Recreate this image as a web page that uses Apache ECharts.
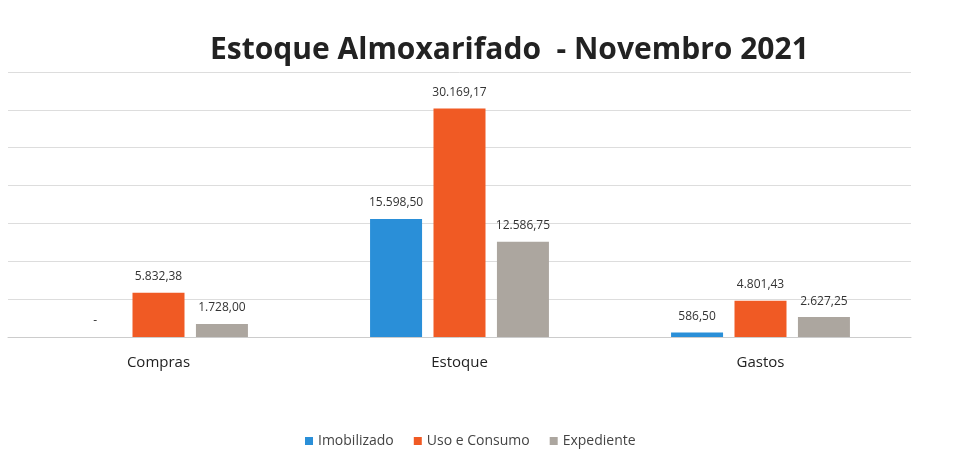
<!DOCTYPE html>
<html style="height: 100%">
<head>
    <meta charset="utf-8">
</head>
<body style="height: 100%; margin: 0; background: #fff">
<div id="container" style="width: 953px; height: 473px;"></div>
<script type="text/javascript" src="https://cdn.jsdelivr.net/npm/echarts@6/dist/echarts.min.js"></script>
<script type="text/javascript">
var categories = ['Compras', 'Estoque', 'Gastos'];
var imobilizado = [0, 15598.50, 586.50];
var usoConsumo = [5832.38, 30169.17, 4801.43];
var expediente = [1728.00, 12586.75, 2627.25];

var dom = document.getElementById('container');
var myChart = echarts.init(dom);

// formato brasileiro: 30.169,17 ; zero aparece como "-"
function fmt(p) {
    if (!p.value) return '-';
    var parts = p.value.toFixed(2).split('.');
    return parts[0].replace(/\B(?=(\d{3})+(?!\d))/g, '.') + ',' + parts[1];
}

var label = {
    show: true,
    position: 'top',
    distance: 10,
    color: '#333',
    fontSize: 12,
    fontFamily: 'Open Sans',
    formatter: fmt
};

function bar(name, data, color) {
    return {
        name: name,
        type: 'bar',
        data: data,
        barWidth: 52,
        barGap: '22%',
        itemStyle: { color: color },
        label: label
    };
}

var option = {
    backgroundColor: '#fff',
    title: {
        text: 'Estoque Almoxarifado  - Novembro 2021',
        left: 205,
        top: 30,
        textStyle: { fontFamily: 'Open Sans', fontWeight: 'bold', fontSize: 30, color: '#222' }
    },
    legend: {
        bottom: 20,
        left: 300,
        itemWidth: 8,
        itemHeight: 8,
        itemGap: 20,
        icon: 'rect',
        textStyle: { fontFamily: 'Open Sans', fontSize: 14, color: '#444' },
        data: ['Imobilizado', 'Uso e Consumo', 'Expediente']
    },
    grid: { left: 8, right: 42, top: 72, bottom: 136 },
    xAxis: {
        type: 'category',
        data: categories,
        axisLine: { lineStyle: { color: '#ccc' } },
        axisTick: { show: false },
        axisLabel: { fontFamily: 'Open Sans', fontSize: 15, color: '#222', margin: 18 }
    },
    yAxis: {
        type: 'value',
        min: 0,
        max: 35000,
        interval: 5000,
        axisLabel: { show: false },
        axisLine: { show: false },
        axisTick: { show: false },
        splitLine: { lineStyle: { color: '#ddd' } }
    },
    series: [
        bar('Imobilizado', imobilizado, '#2a8fd8'),
        bar('Uso e Consumo', usoConsumo, '#f05a24'),
        bar('Expediente', expediente, '#aca69f')
    ]
};

myChart.setOption(option);
</script>
</body>
</html>
